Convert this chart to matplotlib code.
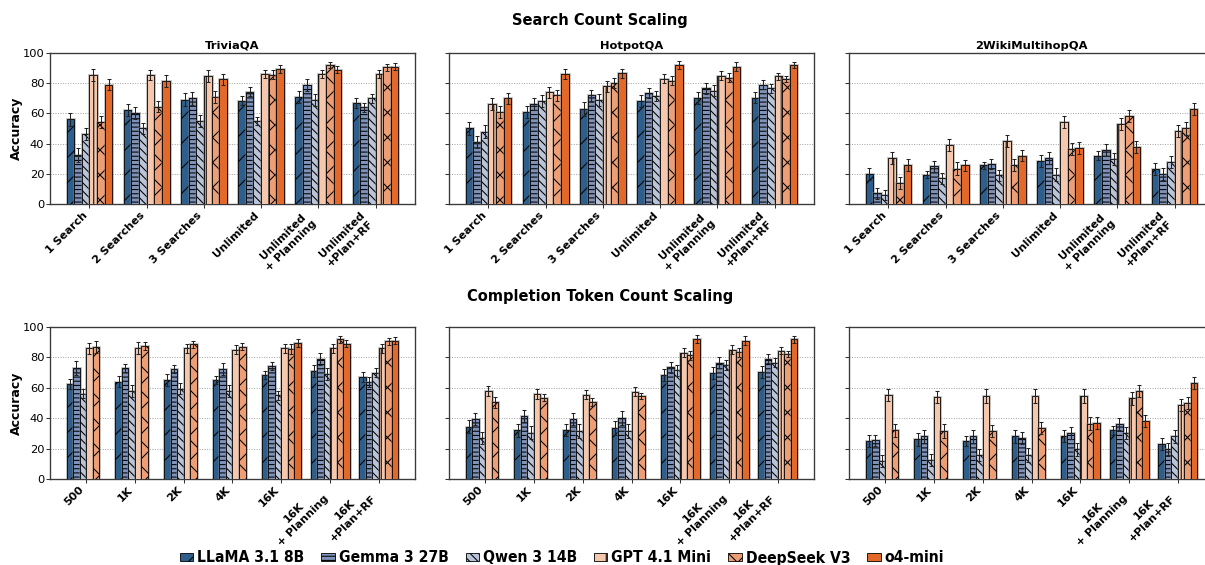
import numpy as np
import matplotlib.pyplot as plt
import matplotlib.patheffects as pe
from matplotlib.patches import Patch
from matplotlib import font_manager

models = ['LLaMA 3.1 8B', 'Gemma 3 27B', 'Qwen 3 14B', 'GPT 4.1 Mini', 'DeepSeek V3', 'o4-mini']
colors = ['#2E5E8C', '#7E92BA', '#BAC4D9', '#F5C8AE', '#EE9E75', '#E2692A']
hatches = ['/', '---', '\\\\\\', '|', 'x', '']

datasets = ['TriviaQA', 'HotpotQA', '2WikiMultihopQA']
search_labels = ['1 Search', '2 Searches', '3 Searches', 'Unlimited',
                 'Unlimited\n+ Planning', 'Unlimited\n+Plan+RF']
token_labels = ['500', '1K', '2K', '4K', '16K', '16K\n+ Planning', '16K\n+Plan+RF']

nan = np.nan

# accuracy, one row per model, one column per setting
trivia_search = [
    [56, 62, 69, 68.5, 71, 67],
    [32.5, 60.5, 70, 74.5, 79, 64],
    [46.5, 50, 55, 55, 69, 70],
    [85.5, 85.5, 84.5, 86, 86, 86],
    [54.5, 64.5, 71, 85.5, 92, 90.5],
    [79, 81.5, 82.5, 89.5, 89, 91],
]
trivia_search_err = [
    [4.2, 4, 4.2, 2.8, 4, 3.2],
    [4.5, 4, 4.2, 2.8, 4, 3.2],
    [3.8, 3.8, 4, 2.8, 4, 3],
    [3.9, 3.5, 4, 2.8, 2.8, 2.8],
    [3.9, 3.5, 3.8, 3, 2.2, 2.4],
    [3.8, 3.8, 3.5, 2.6, 2.4, 2.4],
]
hotpot_search = [
    [50, 61, 63, 68.5, 70, 70.5],
    [41, 66, 72, 73.5, 76.5, 79],
    [48, 68.5, 69, 71.5, 75, 76.5],
    [66, 74, 78, 83, 85, 84.5],
    [61, 72, 80, 81.5, 83.5, 82.5],
    [70, 86, 86.5, 92, 91, 92],
]
hotpot_search_err = [
    [4.4, 4.2, 4.4, 4, 4, 3.8],
    [4.2, 4, 3.8, 3.5, 3.8, 3],
    [4.2, 4, 4, 3.5, 3.5, 3],
    [4, 3.8, 3.5, 3, 3, 2.2],
    [3.8, 3.8, 3.5, 3, 3, 2],
    [3.8, 3.2, 3.2, 2.8, 2.8, 2.2],
]
wiki_search = [
    [20, 19.5, 25.5, 28.5, 32, 23],
    [7, 25, 26.5, 30.5, 36, 20],
    [6, 17, 19, 19.5, 30, 28],
    [30.5, 39, 42, 54.5, 53, 48.5],
    [14, 23.5, 26, 36.5, 58, 50],
    [26, 25.5, 32, 37, 38, 63],
]
wiki_search_err = [
    [4, 2.5, 2.5, 4, 3, 4],
    [3.5, 3.8, 3.5, 4, 4, 4],
    [3.5, 3.8, 3.8, 4.5, 4, 4],
    [4, 4, 4, 4, 4, 4],
    [4, 4, 4, 4, 4, 4],
    [4, 3.5, 3.8, 4, 4, 3.8],
]

trivia_tokens = [
    [62.5, 64, 65, 65, 68.5, 71, 67],
    [73, 73, 72.5, 72.5, 74.5, 79, 64],
    [56, 58, 59.5, 58, 55, 69, 70],
    [86, 86, 86, 85, 86, 86, 86],
    [87, 87.5, 88.5, 87, 85.5, 92, 90.5],
    [nan, nan, nan, nan, 89.5, 89, 91],
]
trivia_tokens_err = [
    [3.6, 3.5, 4, 2.5, 2.8, 4, 3.2],
    [4.5, 2.5, 2.5, 4, 2.8, 4, 3.2],
    [3, 4, 3.5, 4, 2.8, 4, 3],
    [3.6, 4, 3, 3, 2.8, 2.8, 2.8],
    [3.9, 2.8, 2, 2.2, 3, 2.2, 2.4],
    [nan, nan, nan, nan, 2.6, 2.4, 2.4],
]
hotpot_tokens = [
    [34.5, 32, 32, 33.5, 68.5, 70, 70.5],
    [39.5, 41.5, 39.5, 40, 73.5, 76.5, 79],
    [27, 30.5, 31.5, 31.5, 71.5, 75, 76.5],
    [58, 56, 55.5, 57.5, 83, 85, 84.5],
    [50.5, 53.5, 50.5, 54.5, 81.5, 83.5, 82.5],
    [nan, nan, nan, nan, 92, 91, 92],
]
hotpot_tokens_err = [
    [4, 4.5, 4, 4.5, 4, 4, 3.8],
    [4, 4.2, 4.2, 4.5, 3.5, 3.8, 3],
    [4, 4.5, 4.5, 4.5, 3.5, 3.5, 3],
    [3.5, 3.5, 3, 3, 3, 3, 2.2],
    [3.5, 2.5, 2.5, 2, 3, 3, 2],
    [nan, nan, nan, nan, 2.8, 2.8, 2.2],
]
wiki_tokens = [
    [25, 26, 25, 28, 28.5, 32, 23],
    [25.5, 28, 28, 27, 30.5, 36, 20],
    [12, 12.5, 16, 16, 19.5, 30, 28],
    [55.5, 54, 54.5, 54.5, 54.5, 53, 48.5],
    [32, 31.5, 31.5, 33.5, 36.5, 58, 50],
    [nan, nan, nan, nan, 37, 38, 63],
]
wiki_tokens_err = [
    [4, 4, 3, 4, 4, 3, 4],
    [3.5, 4.5, 4, 4, 4, 4, 4],
    [4, 4, 4, 4.5, 4.5, 4, 4],
    [4, 4, 4.5, 4.5, 4.5, 4, 4],
    [4.5, 4.5, 4, 4, 4, 4, 4],
    [nan, nan, nan, nan, 4, 4, 3.8],
]

W, H = 1205, 565
fig = plt.figure(figsize=(W / 75, H / 75), dpi=75)
plt.rcParams['hatch.linewidth'] = 1.0

bar_fx = [pe.Stroke(linewidth=2.6, foreground='#808080', alpha=0.55), pe.Normal()]


def add_axes_px(left, top, width, height):
    return fig.add_axes([left / W, 1 - (top + height) / H, width / W, height / H])


def draw_panel(ax, values, errors, labels, title=None, first=False):
    x = np.arange(len(labels))
    width = 0.8 / len(models)
    for i in range(len(models)):
        offset = (i - (len(models) - 1) / 2) * width
        bars = ax.bar(x + offset, values[i], width, yerr=errors[i],
                      color=colors[i], hatch=hatches[i], edgecolor='black',
                      linewidth=0.8, capsize=2.2, zorder=3,
                      error_kw=dict(elinewidth=1.0, capthick=1.0, ecolor='#222222', zorder=4))
        for b in bars:
            b.set_path_effects(bar_fx)
    ax.set_ylim(0, 100)
    ax.set_yticks(range(0, 101, 20))
    ax.set_xticks(x)
    ax.set_xticklabels(labels, rotation=45, ha='right',
                       fontsize=10.5, fontweight='bold', multialignment='center')
    ax.tick_params(axis='both', length=3.5, width=1.0, color='#333333')
    ax.tick_params(axis='y', labelsize=11, pad=2)
    ax.tick_params(axis='x', pad=2)
    ax.grid(axis='y', linestyle=':', color='#999999', linewidth=0.9, zorder=0)
    ax.set_axisbelow(True)
    for s in ax.spines.values():
        s.set_linewidth(1.3)
        s.set_color('#3a3a3a')
    if title:
        ax.set_title(title, fontsize=11, fontweight='bold', pad=4)
    if first:
        ax.set_ylabel('Accuracy', fontsize=12, fontweight='bold', labelpad=0)
    else:
        ax.tick_params(labelleft=False)


lefts = [50, 449, 849]
panel_w = 365

search_data = [(trivia_search, trivia_search_err), (hotpot_search, hotpot_search_err),
               (wiki_search, wiki_search_err)]
token_data = [(trivia_tokens, trivia_tokens_err), (hotpot_tokens, hotpot_tokens_err),
              (wiki_tokens, wiki_tokens_err)]

for k, (vals, errs) in enumerate(search_data):
    ax = add_axes_px(lefts[k], 53, panel_w, 151)
    draw_panel(ax, vals, errs, search_labels, title=datasets[k], first=(k == 0))

for k, (vals, errs) in enumerate(token_data):
    ax = add_axes_px(lefts[k], 327, panel_w, 152)
    draw_panel(ax, vals, errs, token_labels, first=(k == 0))

fig.text(600 / W, 1 - 20 / H, 'Search Count Scaling', ha='center', va='center',
         fontsize=14, fontweight='bold')
fig.text(600 / W, 1 - 296 / H, 'Completion Token Count Scaling', ha='center', va='center',
         fontsize=14, fontweight='bold')

# legend uses a narrow bold face when one is installed
installed = {f.name for f in font_manager.fontManager.ttflist}
if 'Liberation Sans Narrow' in installed:
    legend_prop = dict(family='Liberation Sans Narrow', weight='bold', size=21)
else:
    legend_prop = dict(family='DejaVu Sans', stretch='condensed', weight='bold', size=15)

handles = [Patch(facecolor=colors[i], edgecolor='black', hatch=hatches[i], linewidth=0.8)
           for i in range(len(models))]
fig.legend(handles, models, loc='center', bbox_to_anchor=(562 / W, 1 - 558 / H), ncol=6,
           frameon=False, handlelength=0.85, handleheight=0.45, columnspacing=1.1,
           handletextpad=0.25, borderpad=0.2, prop=legend_prop)

fig.savefig('out.png', dpi=75)
